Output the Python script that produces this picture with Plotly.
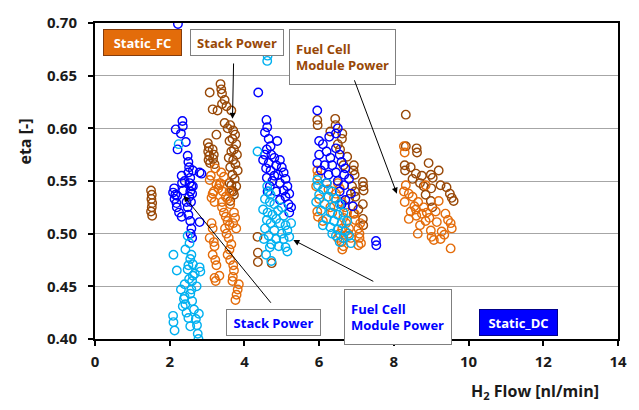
import plotly.graph_objects as go

# ---------------- data ----------------
# Static_FC - Stack Power (brown)
fc_stack_x = [1.50, 1.52, 1.51, 1.53, 1.52, 1.50, 1.53,
              3.36, 3.38, 3.40, 3.07, 3.47, 3.40, 3.52, 3.15, 3.28, 3.65, 3.25, 3.47,
              3.55, 3.62, 3.70, 3.75, 3.68, 3.60, 3.78, 3.72, 3.65, 3.80, 3.58, 3.70, 3.76, 3.62,
              3.82, 3.68, 3.74, 3.60, 3.78, 3.66, 3.72, 3.02, 3.05, 3.03, 3.06, 3.04, 3.08,
              3.15, 3.18, 3.16, 3.20, 3.65, 3.70, 3.62,
              4.35, 4.36, 4.36, 4.73,
              6.43, 6.44, 5.95, 5.96, 6.30, 6.61, 6.62, 6.50, 6.56, 6.75, 6.93, 6.92, 6.95,
              7.17, 7.18, 7.19, 6.96, 6.97, 6.88, 7.17, 7.17, 7.18, 6.93, 6.80, 6.65, 7.05,
              8.32, 8.32, 8.61, 8.62, 8.93, 8.29, 8.30, 8.59, 8.75, 8.99, 9.04, 9.20, 9.25,
              9.00, 8.85, 9.41, 9.55, 9.60, 8.99, 9.03, 8.50, 8.70, 8.45, 8.80, 9.50]
fc_stack_y = [0.541, 0.537, 0.533, 0.529, 0.525, 0.521, 0.517,
              0.642, 0.637, 0.633, 0.634, 0.627, 0.623, 0.621, 0.618, 0.617, 0.617, 0.594, 0.605,
              0.600, 0.603, 0.598, 0.594, 0.590, 0.588, 0.585, 0.580, 0.578, 0.575, 0.572, 0.570, 0.566, 0.563,
              0.560, 0.556, 0.552, 0.548, 0.545, 0.541, 0.537, 0.586, 0.582, 0.578, 0.574, 0.570, 0.567,
              0.580, 0.575, 0.571, 0.566, 0.546, 0.540, 0.531,
              0.497, 0.482, 0.473, 0.472,
              0.609, 0.603, 0.608, 0.603, 0.597, 0.590, 0.595, 0.585, 0.580, 0.573, 0.565, 0.560, 0.556,
              0.549, 0.545, 0.541, 0.540, 0.535, 0.545, 0.528, 0.514, 0.508, 0.519, 0.533, 0.565, 0.523,
              0.613, 0.583, 0.581, 0.577, 0.567, 0.565, 0.560, 0.557, 0.555, 0.556, 0.553, 0.560, 0.546,
              0.543, 0.537, 0.544, 0.534, 0.531, 0.531, 0.525, 0.552, 0.548, 0.563, 0.545, 0.538]

# Static_FC - Fuel Cell Module Power (orange)
fc_module_x = [3.07, 3.38, 3.45, 3.12, 3.18, 3.33, 3.42, 3.50, 3.22, 3.10, 3.35, 3.40, 3.25, 3.30,
               3.15, 3.20, 3.60, 3.55, 3.62, 3.40, 3.45, 3.50, 3.55, 3.60, 3.48, 3.52, 3.58,
               3.12, 3.15, 3.07, 3.18, 3.15, 3.20, 3.72, 3.75, 3.70, 3.78, 3.65, 3.60, 3.55,
               3.62, 3.70, 3.69, 3.72, 3.68, 3.22, 3.33, 3.25, 3.20, 3.23, 3.79, 3.82, 3.85, 3.76,
               5.95, 5.97, 5.92, 6.20, 6.25, 6.50, 6.55, 6.45, 6.40, 6.60, 6.70, 6.75, 5.95, 5.97,
               6.10, 6.65, 6.72, 6.80, 6.78, 6.85, 6.62, 6.55, 6.50, 6.60, 6.65, 7.05, 7.10, 7.08,
               7.12, 7.08, 6.95, 6.97, 6.62, 7.05, 6.30, 6.35, 6.00,
               8.27, 8.29, 8.32, 8.27, 8.29, 8.45, 8.40, 8.55, 8.59, 8.75, 8.85, 8.64, 8.99, 9.01,
               9.07, 9.28, 9.35, 9.52, 9.55, 9.52, 8.88, 9.12, 9.38, 8.85, 9.20, 8.70, 8.60, 8.50,
               8.95, 9.15, 9.45, 8.40, 8.65, 8.80, 9.25]
fc_module_y = [0.551, 0.558, 0.554, 0.534, 0.540, 0.546, 0.540, 0.535, 0.562, 0.555, 0.548, 0.530,
               0.547, 0.543, 0.538, 0.530, 0.540, 0.533, 0.528, 0.525, 0.520, 0.516, 0.512, 0.508,
               0.505, 0.500, 0.496, 0.510, 0.505, 0.496, 0.492, 0.480, 0.488, 0.520, 0.515, 0.510,
               0.505, 0.490, 0.485, 0.480, 0.475, 0.470, 0.459, 0.465, 0.455, 0.475, 0.460, 0.470,
               0.458, 0.455, 0.442, 0.447, 0.452, 0.437,
               0.560, 0.555, 0.545, 0.548, 0.542, 0.548, 0.543, 0.538, 0.534, 0.530, 0.525, 0.520,
               0.521, 0.516, 0.512, 0.515, 0.510, 0.505, 0.500, 0.496, 0.505, 0.500, 0.496, 0.492,
               0.488, 0.505, 0.510, 0.496, 0.491, 0.500, 0.519, 0.513, 0.485, 0.489, 0.525, 0.520,
               0.533,
               0.583, 0.577, 0.546, 0.540, 0.530, 0.521, 0.514, 0.526, 0.523, 0.519, 0.512, 0.500,
               0.503, 0.497, 0.494, 0.502, 0.499, 0.510, 0.505, 0.486, 0.520, 0.521, 0.519, 0.546,
               0.531, 0.508, 0.517, 0.535, 0.515, 0.511, 0.513, 0.538, 0.530, 0.525, 0.495]

# Static_DC - Stack Power (blue)
dc_stack_x = [2.22, 2.34, 2.35, 2.16, 2.30, 2.43, 2.21, 2.48, 2.50, 2.52, 2.50, 2.55, 2.53, 2.58,
              2.55, 2.60, 2.52, 2.57, 2.62, 2.85, 2.80, 2.32, 2.33, 2.36, 2.09, 2.13, 2.19,
              2.20, 2.32, 2.25, 2.45, 2.48, 2.50, 2.55, 2.58, 2.56, 2.60, 2.80, 2.62, 2.40,
              2.12, 2.15, 2.18,
              4.37, 4.59, 4.61, 4.55, 4.65, 4.70, 4.88, 4.60, 4.55, 4.72, 4.80, 4.95, 4.50,
              4.65, 4.85, 5.00, 5.05, 4.58, 4.70, 4.90, 5.10, 4.60, 4.75, 4.95, 5.15, 5.05,
              4.85, 4.68, 5.20, 5.10, 4.95, 5.18, 5.25, 5.20, 4.80, 4.62,
              5.95, 6.50, 6.45, 6.00, 6.27, 6.10, 6.45, 6.20, 6.00, 6.55, 6.30, 6.60, 5.95,
              6.15, 6.35, 6.70, 6.05, 6.45, 6.25, 6.67, 6.80, 6.50, 6.20, 6.67, 6.55, 6.85,
              6.70, 6.60, 6.90, 7.52, 7.53]
dc_stack_y = [0.699, 0.607, 0.602, 0.599, 0.595, 0.587, 0.580, 0.574, 0.568, 0.563, 0.558, 0.553,
              0.548, 0.545, 0.540, 0.538, 0.535, 0.530, 0.545, 0.557, 0.511, 0.555, 0.548, 0.541,
              0.539, 0.533, 0.525, 0.536, 0.516, 0.520, 0.530, 0.525, 0.518, 0.512, 0.505, 0.500,
              0.496, 0.558, 0.560, 0.550,
              0.543, 0.537, 0.529,
              0.634, 0.608, 0.601, 0.596, 0.590, 0.583, 0.588, 0.580, 0.575, 0.575, 0.572, 0.570,
              0.570, 0.567, 0.565, 0.563, 0.558, 0.562, 0.560, 0.556, 0.552, 0.553, 0.550, 0.548,
              0.545, 0.541, 0.540, 0.545, 0.538, 0.535, 0.532, 0.528, 0.525, 0.520, 0.555, 0.540,
              0.617, 0.600, 0.595, 0.588, 0.592, 0.585, 0.581, 0.578, 0.575, 0.575, 0.572, 0.568,
              0.567, 0.565, 0.565, 0.562, 0.560, 0.558, 0.556, 0.556, 0.552, 0.550, 0.548, 0.546,
              0.540, 0.538, 0.532, 0.528, 0.526, 0.493, 0.489]

# Static_DC - Fuel Cell Module Power (light blue)
dc_module_x = [2.24, 2.48, 2.53, 2.42, 2.10, 2.62, 2.19, 2.67, 2.80, 2.82, 2.60, 2.72, 2.58, 2.30,
               2.55, 2.60, 2.40, 2.35, 2.65, 2.45, 2.09, 2.10, 2.70, 2.13, 2.73, 2.78, 2.75, 2.77,
               2.50, 2.55, 2.48, 2.52, 2.40, 2.38, 2.42, 2.50, 2.55, 2.62, 2.58,
               4.61, 4.62, 4.35, 4.61, 4.65, 4.70, 4.55, 4.68, 4.80, 4.50, 4.62, 4.75, 4.90, 5.00,
               5.05, 4.85, 4.60, 4.70, 4.95, 5.10, 4.55, 4.80, 5.00, 5.15, 4.65, 4.85, 5.05, 5.20,
               4.72, 4.92, 5.10, 4.68, 5.15, 4.72, 4.52, 4.58, 5.25,
               5.95, 5.97, 6.20, 6.10, 6.35, 6.00, 6.25, 6.45, 5.92, 6.15, 6.40, 6.55, 6.05, 6.30,
               6.50, 6.65, 6.20, 6.40, 6.60, 6.75, 6.30, 6.50, 6.70, 6.45, 6.65, 6.80, 6.55, 6.85,
               6.10, 6.35]
dc_module_y = [0.585, 0.498, 0.491, 0.485, 0.480, 0.471, 0.465, 0.462, 0.468, 0.464, 0.455, 0.450,
               0.447, 0.447, 0.443, 0.436, 0.440, 0.431, 0.428, 0.425, 0.422, 0.416, 0.419, 0.408,
               0.413, 0.424, 0.405, 0.400, 0.470, 0.476, 0.466, 0.457, 0.452, 0.438, 0.433, 0.420,
               0.412, 0.460, 0.480,
               0.664, 0.669, 0.578, 0.545, 0.540, 0.537, 0.533, 0.530, 0.528, 0.523, 0.520, 0.518,
               0.522, 0.525, 0.517, 0.514, 0.513, 0.510, 0.510, 0.508, 0.505, 0.503, 0.500, 0.503,
               0.498, 0.495, 0.495, 0.497, 0.490, 0.488, 0.487, 0.487, 0.483, 0.474, 0.495, 0.480,
               0.510,
               0.551, 0.546, 0.548, 0.542, 0.540, 0.537, 0.535, 0.533, 0.530, 0.528, 0.526, 0.528,
               0.522, 0.520, 0.518, 0.520, 0.514, 0.512, 0.510, 0.512, 0.506, 0.504, 0.502, 0.498,
               0.496, 0.498, 0.492, 0.491, 0.508, 0.500]

x_ticks = [0, 2, 4, 6, 8, 10, 12, 14]
y_ticks = [0.40, 0.45, 0.50, 0.55, 0.60, 0.65, 0.70]

# ---------------- styling ----------------
BROWN = "#984807"
ORANGE = "#E46C0A"
BLUE = "#0000FF"
CYAN = "#00B0F0"
FONT = "Open Sans"
TXT = "#1a1a1a"

fig = go.Figure()
for xs, ys, col, name in [(fc_stack_x, fc_stack_y, BROWN, "Static_FC Stack Power"),
                          (fc_module_x, fc_module_y, ORANGE, "Static_FC Fuel Cell Module Power"),
                          (dc_stack_x, dc_stack_y, BLUE, "Static_DC Stack Power"),
                          (dc_module_x, dc_module_y, CYAN, "Static_DC Fuel Cell Module Power")]:
    fig.add_trace(go.Scatter(x=xs, y=ys, mode="markers", name=name,
                             marker=dict(symbol="circle-open", size=8.5, color=col,
                                         line=dict(width=1.4, color=col))))

W, H = 639, 410
L, R, T, B = 95, 19, 13, 71
pw, ph = W - L - R, H - T - B


def px(xp):
    return (xp - L) / pw


def py(yp):
    return (H - B - yp) / ph


def box(text, left, top, w, h, color, bg="white", border="#7F7F7F", align="center"):
    fig.add_annotation(x=px(left), y=py(top), xref="paper", yref="paper",
                       xanchor="left", yanchor="top", showarrow=False,
                       text=text, align=align, valign="middle",
                       width=w - 2 - 12 if align == "left" else w - 2,
                       height=h - 2 - 4 if align == "left" else h - 2,
                       borderpad=6 if align == "left" else 0,
                       bgcolor=bg, bordercolor=border, borderwidth=1,
                       font=dict(family=FONT, size=13, color=color, weight="bold"))


box("Static_FC", 103, 19, 79, 27, "white", bg="#E36C0A", border="#843C0C")
box("Stack Power", 190, 19, 94, 27, BROWN)
box("Fuel Cell<br>Module Power", 290, 19, 107, 48, BROWN, align="left")
box("Stack Power", 227, 308, 95, 27, BLUE)
box("Fuel Cell<br>Module Power", 345, 287, 108, 48, BLUE, align="left")
box("Static_DC", 480, 308, 79, 27, "white", bg="#0000FF", border="#00008B")


def arrow(x0, y0, x1, y1):
    fig.add_annotation(x=x1, y=y1, ax=x0, ay=y0, xref="x", yref="y", axref="x", ayref="y",
                       text="", showarrow=True, arrowhead=2, arrowsize=1.2,
                       arrowwidth=1, arrowcolor="black")


arrow(3.71, 0.663, 3.68, 0.609)
arrow(6.93, 0.647, 8.08, 0.538)
arrow(4.74, 0.433, 2.37, 0.536)
arrow(7.49, 0.454, 5.31, 0.494)

fig.add_annotation(x=px(25), y=py(135), xref="paper", yref="paper", showarrow=False,
                   xanchor="center", yanchor="middle",
                   text="eta [-]", textangle=-90,
                   font=dict(family=FONT, size=16, color=TXT, weight="bold"))
fig.add_annotation(x=px(537), y=py(393), xref="paper", yref="paper", showarrow=False,
                   xanchor="center", yanchor="middle",
                   text="H<sub>2</sub> Flow [nl/min]",
                   font=dict(family=FONT, size=16, color=TXT, weight="bold"))

fig.update_layout(
    width=W, height=H, margin=dict(l=L, r=R, t=T, b=B),
    paper_bgcolor="white", plot_bgcolor="white", showlegend=False,
    font=dict(family=FONT, color=TXT),
)
fig.update_xaxes(range=[0, 14], tickvals=x_ticks, ticktext=[str(v) for v in x_ticks],
                 showgrid=False, zeroline=False, showline=True, linecolor="black", linewidth=2,
                 mirror=True, ticks="outside", ticklen=5, tickwidth=1.5, tickcolor="black",
                 ticklabelstandoff=3,
                 tickfont=dict(family=FONT, size=15, color=TXT, weight="bold"))
fig.update_yaxes(range=[0.40, 0.70], tickvals=y_ticks, ticktext=[f"{v:.2f}" for v in y_ticks],
                 showgrid=True, gridcolor="#A6A6A6", gridwidth=1, zeroline=False,
                 showline=True, linecolor="black", linewidth=2, mirror=True,
                 ticks="outside", ticklen=5, tickwidth=1.5, tickcolor="black",
                 ticklabelstandoff=8,
                 tickfont=dict(family=FONT, size=15, color=TXT, weight="bold"))

fig.write_html("out.html")
